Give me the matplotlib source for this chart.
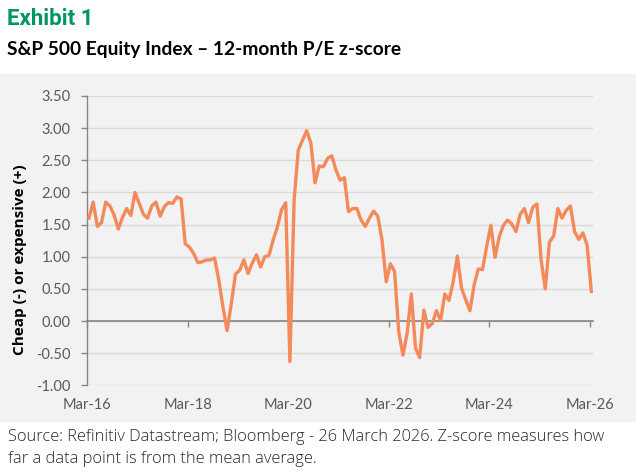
import numpy as np
import matplotlib
matplotlib.use("Agg")
import matplotlib.pyplot as plt
from matplotlib.patches import Rectangle

# ---- data (monthly, Mar-2016 .. Mar-2026) ----
zscore = [
    1.60, 1.85, 1.47, 1.53, 1.85, 1.79, 1.65, 1.43, 1.61, 1.75,
    1.64, 2.00, 1.83, 1.66, 1.60, 1.79, 1.85, 1.63, 1.78, 1.84,
    1.83, 1.93, 1.90, 1.20, 1.15, 1.05, 0.91, 0.92, 0.95, 0.95,
    0.98, 0.64, 0.22, -0.15, 0.27, 0.73, 0.79, 0.95, 0.74, 0.90,
    1.03, 0.84, 1.00, 1.02, 1.26, 1.46, 1.73, 1.84, -0.63, 1.88,
    2.66, 2.81, 2.96, 2.77, 2.15, 2.41, 2.40, 2.53, 2.57, 2.35,
    2.19, 2.23, 1.70, 1.75, 1.75, 1.57, 1.47, 1.60, 1.71, 1.63,
    1.26, 0.61, 0.89, 0.77, -0.17, -0.53, -0.19, 0.42, -0.42, -0.57,
    0.17, -0.10, -0.04, 0.16, 0.01, 0.42, 0.32, 0.61, 1.01, 0.51,
    0.33, 0.16, 0.56, 0.81, 0.80, 1.16, 1.49, 0.99, 1.31, 1.49,
    1.57, 1.51, 1.39, 1.66, 1.75, 1.53, 1.77, 1.82, 0.95, 0.50,
    1.23, 1.32, 1.75, 1.60, 1.72, 1.79, 1.39, 1.27, 1.37, 1.18,
    0.46,
]
month_offset = np.arange(len(zscore)) + 0.4   # months since Mar-2016
tick_labels = ["Mar-16", "Mar-18", "Mar-20", "Mar-22", "Mar-24", "Mar-26"]
tick_months = [0, 24, 48, 72, 96, 120]
y_ticks = [-1.0, -0.5, 0.0, 0.5, 1.0, 1.5, 2.0, 2.5, 3.0, 3.5]

W, H = 636, 472
fig = plt.figure(figsize=(W / 100, H / 100), dpi=100)
fig.patch.set_facecolor("white")

# grey panel
fig.patches.append(Rectangle((0, 1 - 422 / H), 1, (422 - 74) / H,
                             transform=fig.transFigure, facecolor="#f2f2f2",
                             edgecolor="none", zorder=-10))

ax = fig.add_axes([87.3 / W, 1 - 385.3 / H, (593 - 87.3) / W, (385.3 - 96) / H])
ax.set_zorder(5)
ax.set_facecolor("none")

ax.plot(month_offset, zscore, color="#F4895A", lw=2.4, solid_joinstyle="round",
        zorder=3)

ax.set_xlim(0, 120.8)
ax.set_ylim(-1.0, 3.5)
ax.set_yticks(y_ticks)
ax.set_yticklabels([f"{v:.2f}" for v in y_ticks], fontfamily="Lato",
                   fontsize=10.5, color="#595959")
ax.yaxis.grid(True, color="#d9d9d9", lw=1)
ax.set_axisbelow(True)

for s in ["top", "right"]:
    ax.spines[s].set_visible(False)
ax.spines["left"].set_color("#868686")
ax.spines["left"].set_linewidth(1)
ax.spines["bottom"].set_position(("data", 0))
ax.spines["bottom"].set_color("#868686")
ax.spines["bottom"].set_linewidth(1.2)
ax.tick_params(axis="y", length=4, width=1, color="#868686", pad=8)

ax.set_xticks(tick_months)
ax.tick_params(axis="x", length=4, width=1, color="#868686",
               labelbottom=False, direction="out")

sec = ax.secondary_xaxis("bottom")
sec.set_xticks(tick_months)
sec.set_xticklabels(tick_labels, fontfamily="Lato", fontsize=10.5,
                    color="#595959")
sec.tick_params(length=0, pad=9)
sec.spines["bottom"].set_visible(False)

fig.text(20 / W, 1 - 260 / H, "Cheap (-) or expensive (+)", rotation=90,
         ha="center", va="center", fontfamily="Open Sans", fontweight="bold",
         fontsize=11, color="#000000")

fig.text(7 / W, 1 - 25 / H, "Exhibit 1", ha="left", va="baseline",
         fontfamily="Roboto", fontweight="bold", fontsize=16,
         color="#00965E")
fig.text(7 / W, 1 - 55 / H, "S&P 500 Equity Index \u2013 12-month P/E z-score",
         ha="left", va="baseline", fontfamily="Lato", fontweight="bold",
         fontsize=13.8, color="#000000")

fig.text(8 / W, 1 - 441 / H,
         "Source: Refinitiv Datastream; Bloomberg - 26 March 2026. Z-score measures how",
         ha="left", va="baseline", fontfamily="Open Sans", fontweight="light",
         fontsize=11.8, color="#262626")
fig.text(8 / W, 1 - 463 / H, "far a data point is from the mean average.",
         ha="left", va="baseline", fontfamily="Open Sans", fontweight="light",
         fontsize=11.8, color="#262626")

fig.savefig("out.png", dpi=100, facecolor=fig.get_facecolor())
